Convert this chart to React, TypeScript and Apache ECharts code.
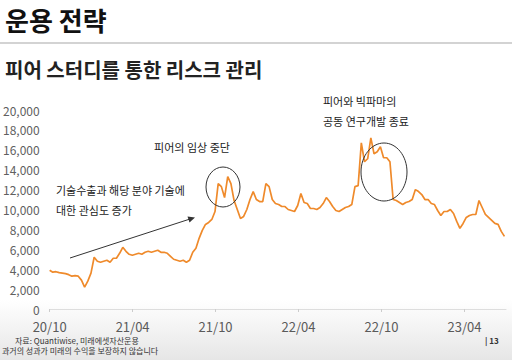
import React, { useEffect, useRef } from "react";
import * as echarts from "echarts";

// Weekly closing prices starting 2020-10-01
const startLabel = "2020-10-01";
const weeklyPrices: number[] = [
  3900, 3700, 3750, 3650, 3600, 3550, 3450, 3300, 3350, 3300,
  2900, 2200, 2800, 3600, 5200, 4800, 4700, 4800, 4900, 4700,
  5100, 5100, 5600, 6200, 5800, 5500, 5400, 5500, 5600, 5500,
  5700, 5800, 5700, 5800, 5900, 5700, 5700, 5600, 5300, 5000,
  4900, 4800, 4900, 4700, 4900, 5700, 6100, 7100, 7900, 8500,
  8700, 9000, 9800, 12600, 12300, 11200, 13300, 12600, 10900, 10000,
  9100, 9300, 10000, 11000, 11800, 11000, 10800, 10800, 12600, 12300,
  11000, 10600, 10500, 10300, 10300, 10000, 9900, 9800, 10400, 11600,
  10700, 10600, 10100, 10100, 10000, 10200, 10600, 11200, 10800, 10300,
  9900, 9800, 10000, 10200, 10300, 10500, 12300, 12400, 16700, 14800,
  15100, 17200, 15600, 15800, 16300, 15200, 15200, 14800, 11000, 10900,
  10700, 10500, 10700, 10800, 11000, 12000, 11800, 11500, 11000, 11000,
  10600, 10500, 9900, 9400, 9800, 9800, 10000, 9600, 8800, 8100,
  8600, 9200, 9400, 9500, 9500, 10900, 10200, 9500, 9200, 8900,
  8600, 8500, 7800, 7300,
];

const yTicks = { min: 0, max: 20000, interval: 2000 };
const xTickMonths = 6; // label every 6 months: 20/10, 21/04, ...
const xMaxMonths = 33;

const title = "운용 전략";
const subtitle = "피어 스터디를 통한 리스크 관리";
const noteA = ["기술수출과 해당 분야 기술에", "대한 관심도 증가"];
const noteB = "피어의 임상 중단";
const noteC = ["피어와 빅파마의", "공동 연구개발 종료"];
const source = "자료: Quantiwise, 미래에셋자산운용";
const disclaimer = "과거의 성과가 미래의 수익을 보장하지 않습니다";
const pageNo = "| 13";

const FONT = "'Noto Sans CJK KR', 'Noto Sans', sans-serif";

export default function App() {
  const ref = useRef<HTMLDivElement>(null);

  useEffect(() => {
    document.body.style.margin = "0";
    if (!ref.current) return;
    const chart = echarts.init(ref.current, undefined, { renderer: "svg" });

    const DAYS_PER_MONTH = 30.4375;
    const seriesData = weeklyPrices.map((v, i) => [(i * 7) / DAYS_PER_MONTH, v]);

    const monthLabel = (m: number) => {
      const total = 9 + Math.round(m);
      const yy = 20 + Math.floor(total / 12);
      const mm = (total % 12) + 1;
      return `${yy}/${mm < 10 ? "0" + mm : mm}`;
    };

    chart.setOption({
      animation: false,
      backgroundColor: "#ffffff",
      textStyle: { fontFamily: FONT },
      grid: { left: 48, right: 6, top: 110, bottom: 51, containLabel: false },
      xAxis: {
        type: "value",
        min: 0,
        max: xMaxMonths,
        interval: xTickMonths,
        axisLine: { show: true, lineStyle: { color: "#dddddd", width: 1 } },
        axisTick: { show: true, length: 3, lineStyle: { color: "#cccccc" } },
        splitLine: { show: false },
        axisLabel: {
          formatter: (v: number) => monthLabel(v),
          color: "#5a5a5a",
          fontSize: 13,
          lineHeight: 13,
          margin: 11,
          fontFamily: FONT,
          showMaxLabel: false,
        },
      },
      yAxis: {
        type: "value",
        min: yTicks.min,
        max: yTicks.max,
        interval: yTicks.interval,
        axisLine: { show: false },
        axisTick: { show: false },
        splitLine: { show: false },
        axisLabel: {
          formatter: (v: number) => v.toLocaleString("en-US"),
          color: "#606060",
          fontSize: 12,
          lineHeight: 12,
          margin: 10,
          fontFamily: FONT,
        },
      },
      series: [
        {
          type: "line",
          data: seriesData,
          showSymbol: false,
          symbol: "none",
          lineStyle: { color: "#ef8a2b", width: 1.7 },
          z: 3,
        },
      ],
      graphic: [
        {
          type: "rect",
          z: -10,
          shape: { x: 0, y: 300, width: 512, height: 60 },
          style: {
            fill: new echarts.graphic.LinearGradient(0, 0, 0, 1, [
              { offset: 0, color: "#ffffff" },
              { offset: 1, color: "#e6e6e6" },
            ]),
          },
          silent: true,
        },
        {
          type: "text",
          left: 5,
          top: 6,
          style: { text: title, font: `bold 26px ${FONT}`, fill: "#111111" },
        },
        {
          type: "line",
          shape: { x1: 0, y1: 43, x2: 512, y2: 43 },
          style: { stroke: "#c4c4c4", lineWidth: 1.5 },
        },
        {
          type: "text",
          left: 5,
          top: 59,
          style: { text: subtitle, font: `bold 20px ${FONT}`, fill: "#222222" },
        },
        {
          type: "text",
          x: 56,
          y: 200,
          style: {
            text: noteA.join("\n"),
            font: `11px ${FONT}`,
            fill: "#222222",
            lineHeight: 20,
            verticalAlign: "middle",
          },
        },
        {
          type: "line",
          shape: { x1: 70, y1: 258, x2: 190, y2: 219 },
          style: { stroke: "#333333", lineWidth: 1 },
        },
        {
          type: "polygon",
          shape: { points: [[195, 217.5], [187.5, 216.5], [189.5, 222.5]] },
          style: { fill: "#333333" },
        },
        {
          type: "text",
          x: 192,
          y: 147,
          style: {
            text: noteB,
            font: `11px ${FONT}`,
            fill: "#222222",
            align: "center",
            verticalAlign: "middle",
          },
        },
        {
          type: "ellipse",
          shape: { cx: 223, cy: 187, rx: 17, ry: 20 },
          style: { stroke: "#333333", lineWidth: 1, fill: "none" },
          z: 10,
        },
        {
          type: "text",
          x: 323,
          y: 111,
          style: {
            text: noteC.join("\n"),
            font: `11px ${FONT}`,
            fill: "#222222",
            lineHeight: 20,
            verticalAlign: "middle",
          },
        },
        {
          type: "ellipse",
          shape: { cx: 384, cy: 172, rx: 23, ry: 29 },
          style: { stroke: "#333333", lineWidth: 1, fill: "none" },
          z: 10,
        },
        {
          type: "text",
          x: 15,
          y: 340,
          style: {
            text: source,
            font: `8px ${FONT}`,
            fill: "#333333",
            verticalAlign: "middle",
          },
        },
        {
          type: "text",
          x: 2,
          y: 350,
          style: {
            text: disclaimer,
            font: `8px ${FONT}`,
            fill: "#333333",
            verticalAlign: "middle",
          },
        },
        {
          type: "text",
          x: 485,
          y: 340,
          style: {
            text: pageNo,
            font: `bold 8px ${FONT}`,
            fill: "#333333",
            verticalAlign: "middle",
          },
        },
      ],
    });

    return () => chart.dispose();
  }, []);

  return (
    <div
      ref={ref}
      data-start={startLabel}
      style={{ position: "fixed", left: 0, top: 0, width: 512, height: 360 }}
    />
  );
}
